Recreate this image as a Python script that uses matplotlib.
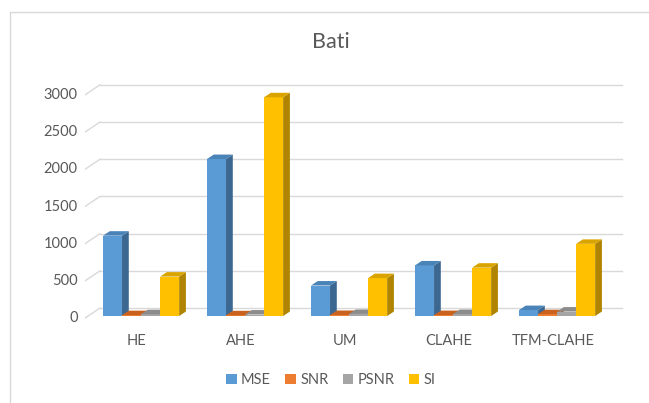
import numpy as np
import matplotlib.pyplot as plt
from matplotlib.patches import Polygon, Patch, Rectangle

plt.rcParams['font.family'] = ['Lato', 'DejaVu Sans']

# data
categories = ['HE', 'AHE', 'UM', 'CLAHE', 'TFM-CLAHE']
series = ['MSE', 'SNR', 'PSNR', 'SI']
mse = [1080, 2110, 410, 680, 80]
snr = [12, 10, 14, 13, 25]
psnr = [25, 20, 28, 27, 60]
si = [530, 2940, 510, 650, 970]
yticks = [0, 500, 1000, 1500, 2000, 2500, 3000]

# face colours: front, side, top
colors = {
    'MSE': ('#5B9BD5', '#3C6791', '#4A83B8'),
    'SNR': ('#ED7D31', '#A4561F', '#C9621E'),
    'PSNR': ('#A5A5A5', '#727272', '#8C8C8C'),
    'SI': ('#FFC000', '#B08400', '#D9A300'),
}
values = {'MSE': mse, 'SNR': snr, 'PSNR': psnr, 'SI': si}

fig = plt.figure(figsize=(6.49, 4.03), dpi=100)
# outer chart border
fig.patches.append(Rectangle((10 / 649, -0.02), 1.0, 1 - 12 / 403 + 0.02,
                             transform=fig.transFigure, fill=False,
                             edgecolor='#D9D9D9', lw=1))

ax = fig.add_axes([85 / 649, (403 - 330) / 403, 540 / 649, 250 / 403])
ax.set_xlim(-0.538, 4.654)
ax.set_ylim(-188, 3172)
ax.axis('off')

grid_c = '#D9D9D9'
x_front, x_back, x_end = -0.54, -0.394, 4.625
front_off, back_off = -30, 107
for v in yticks:
    ax.plot([x_front, x_back], [v + front_off, v + back_off], color=grid_c, lw=1, zorder=1)
    ax.plot([x_back, x_end], [v + back_off, v + back_off], color=grid_c, lw=1, zorder=1)
    ax.text(x_front - 0.07, v + front_off, str(v), ha='right', va='center',
            fontsize=10.5, color='#595959')

# pseudo 3D bars
w = 0.183
ddx, ddy = 0.065, 60
x = np.arange(len(categories))
for i in x:
    for j, s in enumerate(series):
        v = values[s][i]
        front, side, top = colors[s]
        x0 = i - 0.365 + j * w
        z = 3 + i * 10 + j * 2
        ax.bar(x0, v, width=w, align='edge', color=front, zorder=z)
        ax.add_patch(Polygon([(x0 + w, 0), (x0 + w + ddx, ddy), (x0 + w + ddx, v + ddy), (x0 + w, v)],
                             closed=True, facecolor=side, edgecolor='none', zorder=z))
        ax.add_patch(Polygon([(x0, v), (x0 + w, v), (x0 + w + ddx, v + ddy), (x0 + ddx, v + ddy)],
                             closed=True, facecolor=top, edgecolor='none', zorder=z + 1))

for i, c in enumerate(categories):
    ax.text(i - 0.04, -330, c, ha='center', va='center', fontsize=10.5,
            color='#595959', clip_on=False)

fig.text(331 / 649, 1 - 42 / 403, 'Bati', ha='center', va='center',
         fontsize=15.5, color='#595959')

handles = [Patch(facecolor=colors[s][0], label=s) for s in series]
fig.legend(handles=handles, loc='center', bbox_to_anchor=(0.51, 1 - 380 / 403),
           ncol=4, frameon=False, fontsize=10.5, handlelength=0.7, handleheight=0.7,
           handletextpad=0.3, columnspacing=1.0, labelcolor='#595959')

fig.savefig('out.png', dpi=100)
